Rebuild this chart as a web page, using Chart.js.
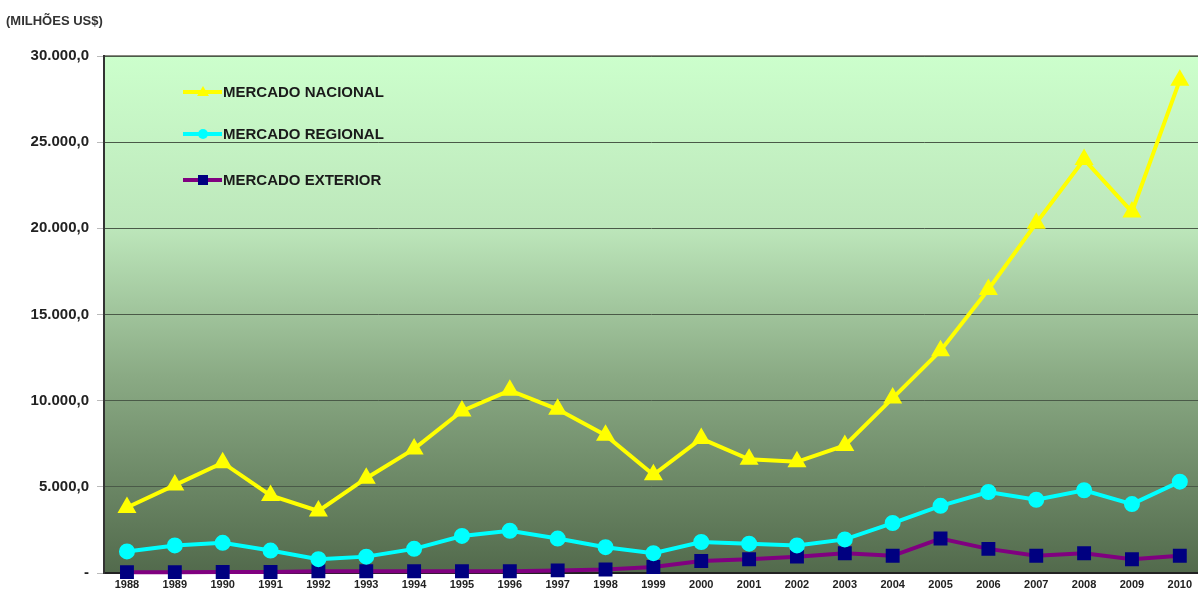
<!DOCTYPE html>
<html>
<head>
<meta charset="utf-8">
<script src="https://cdn.jsdelivr.net/npm/chart.js@4.4.1/dist/chart.umd.min.js"></script>
<style>
  html, body { margin: 0; padding: 0; background: #ffffff; }
  #wrap { position: relative; width: 1198px; height: 599px; }
</style>
</head>
<body>
<div id="wrap"><canvas id="chart" width="1198" height="599"></canvas></div>
<script>
const years = [1988, 1989, 1990, 1991, 1992, 1993, 1994, 1995, 1996, 1997, 1998,
               1999, 2000, 2001, 2002, 2003, 2004, 2005, 2006, 2007, 2008, 2009, 2010];

const mercadoNacional = [3800, 5100, 6400, 4500, 3600, 5500, 7200, 9400, 10600, 9500, 8000,
                         5700, 7800, 6600, 6450, 7400, 10150, 12900, 16450, 20300, 24000, 20950, 28600];

const mercadoRegional = [1250, 1600, 1750, 1300, 800, 950, 1400, 2150, 2450, 2000, 1500,
                         1150, 1800, 1700, 1600, 1950, 2900, 3900, 4700, 4250, 4800, 4000, 5300];

const mercadoExterior = [50, 50, 60, 60, 100, 100, 100, 100, 100, 150, 200,
                         350, 700, 800, 950, 1150, 1000, 2000, 1400, 1000, 1150, 800, 1000];

const yTicks = [0, 5000, 10000, 15000, 20000, 25000, 30000];

function toPoints(values) {
    return values.map((v, i) => ({ x: years[i], y: v }));
}

function formatBR(v) {
    if (v === 0) return '-';
    const parts = Math.round(v).toString().replace(/\B(?=(\d{3})+(?!\d))/g, '.');
    return parts + ',0';
}

// gradient background of the plot area
const bgPlugin = {
    id: 'bgPlugin',
    beforeDraw(chart) {
        const { ctx, chartArea: a } = chart;
        const g = ctx.createLinearGradient(0, a.top, 0, a.bottom);
        g.addColorStop(0, '#ccffcc');
        g.addColorStop(0.33, '#bde7bb');
        g.addColorStop(0.62, '#8aaa84');
        g.addColorStop(1, '#526a4c');
        ctx.save();
        ctx.fillStyle = g;
        ctx.fillRect(a.left, a.top, a.right - a.left, a.bottom - a.top);
        ctx.strokeStyle = '#8a8a80';
        ctx.lineWidth = 2;
        ctx.beginPath();
        ctx.moveTo(a.left, a.top);
        ctx.lineTo(a.right, a.top);
        ctx.stroke();
        ctx.restore();
    },
    afterDraw(chart) {
        const { ctx } = chart;
        ctx.save();
        ctx.fillStyle = '#333333';
        ctx.font = 'bold 13px "Liberation Sans", Arial, sans-serif';
        ctx.textBaseline = 'middle';
        ctx.fillText('(MILHÕES US$)', 6, 21);
        ctx.restore();
    }
};

// legend drawn inside the plot area
const legendPlugin = {
    id: 'insideLegend',
    afterDatasetsDraw(chart) {
        const { ctx } = chart;
        const rows = [92, 134, 180];
        ctx.save();
        chart.data.datasets.forEach((ds, i) => {
            const y = rows[i];
            ctx.strokeStyle = ds.borderColor;
            ctx.lineWidth = 4;
            ctx.beginPath();
            ctx.moveTo(183, y);
            ctx.lineTo(222, y);
            ctx.stroke();
            ctx.fillStyle = ds.pointBackgroundColor;
            const cx = 203;
            if (ds.pointStyle === 'triangle') {
                ctx.beginPath();
                ctx.moveTo(cx, y - 6);
                ctx.lineTo(cx + 6, y + 4);
                ctx.lineTo(cx - 6, y + 4);
                ctx.closePath();
                ctx.fill();
            } else if (ds.pointStyle === 'circle') {
                ctx.beginPath();
                ctx.arc(cx, y, 5, 0, Math.PI * 2);
                ctx.fill();
            } else {
                ctx.fillRect(cx - 5, y - 5, 10, 10);
            }
            ctx.fillStyle = '#1a1a1a';
            ctx.font = 'bold 15px "Liberation Sans", Arial, sans-serif';
            ctx.textBaseline = 'middle';
            ctx.fillText(ds.label, 223, y + 1);
        });
        ctx.restore();
    }
};

const ctx = document.getElementById('chart').getContext('2d');

new Chart(ctx, {
    type: 'line',
    data: {
        datasets: [
            {
                label: 'MERCADO NACIONAL',
                data: toPoints(mercadoNacional),
                borderColor: '#ffff00',
                backgroundColor: '#ffff00',
                pointBackgroundColor: '#ffff00',
                pointBorderColor: '#ffff00',
                pointStyle: 'triangle',
                pointRadius: 7,
                borderWidth: 4,
                tension: 0
            },
            {
                label: 'MERCADO REGIONAL',
                data: toPoints(mercadoRegional),
                borderColor: '#00ffff',
                backgroundColor: '#00ffff',
                pointBackgroundColor: '#00ffff',
                pointBorderColor: '#00ffff',
                pointStyle: 'circle',
                pointRadius: 6,
                borderWidth: 4,
                tension: 0
            },
            {
                label: 'MERCADO EXTERIOR',
                data: toPoints(mercadoExterior),
                borderColor: '#800080',
                backgroundColor: '#000080',
                pointBackgroundColor: '#000080',
                pointBorderColor: '#000080',
                pointStyle: 'rect',
                pointRadius: 7,
                borderWidth: 4,
                tension: 0
            }
        ]
    },
    options: {
        responsive: false,
        animation: false,
        clip: false,
        layout: {
            autoPadding: false,
            padding: { top: 56, right: 0, bottom: 0, left: 0 }
        },
        plugins: {
            legend: { display: false },
            tooltip: { enabled: false },
            title: { display: false }
        },
        scales: {
            x: {
                type: 'linear',
                min: 1987.52,
                max: 2010.38,
                afterBuildTicks(axis) {
                    axis.ticks = years.map(y => ({ value: y }));
                },
                afterFit(axis) {
                    axis.height = 26;
                    axis.paddingRight = 0;
                    axis.paddingLeft = 0;
                },
                grid: {
                    drawOnChartArea: false,
                    drawTicks: false
                },
                border: { display: true, color: '#222222', width: 2 },
                ticks: {
                    color: '#222222',
                    font: { family: '"Liberation Sans", Arial, sans-serif', size: 11, weight: 'bold' },
                    padding: 5,
                    maxRotation: 0,
                    autoSkip: false,
                    callback: v => String(v)
                }
            },
            y: {
                min: 0,
                max: 30000,
                afterBuildTicks(axis) {
                    axis.ticks = yTicks.map(v => ({ value: v }));
                },
                afterFit(axis) { axis.width = 104; },
                grid: {
                    color: '#4a5a48',
                    lineWidth: 1,
                    tickLength: 7,
                    tickColor: '#bbbbbb'
                },
                border: { display: true, color: '#333333', width: 2 },
                ticks: {
                    color: '#222222',
                    font: { family: '"Liberation Sans", Arial, sans-serif', size: 15, weight: 'bold' },
                    padding: 8,
                    callback: v => formatBR(v)
                }
            }
        }
    },
    plugins: [bgPlugin, legendPlugin]
});
</script>
</body>
</html>
